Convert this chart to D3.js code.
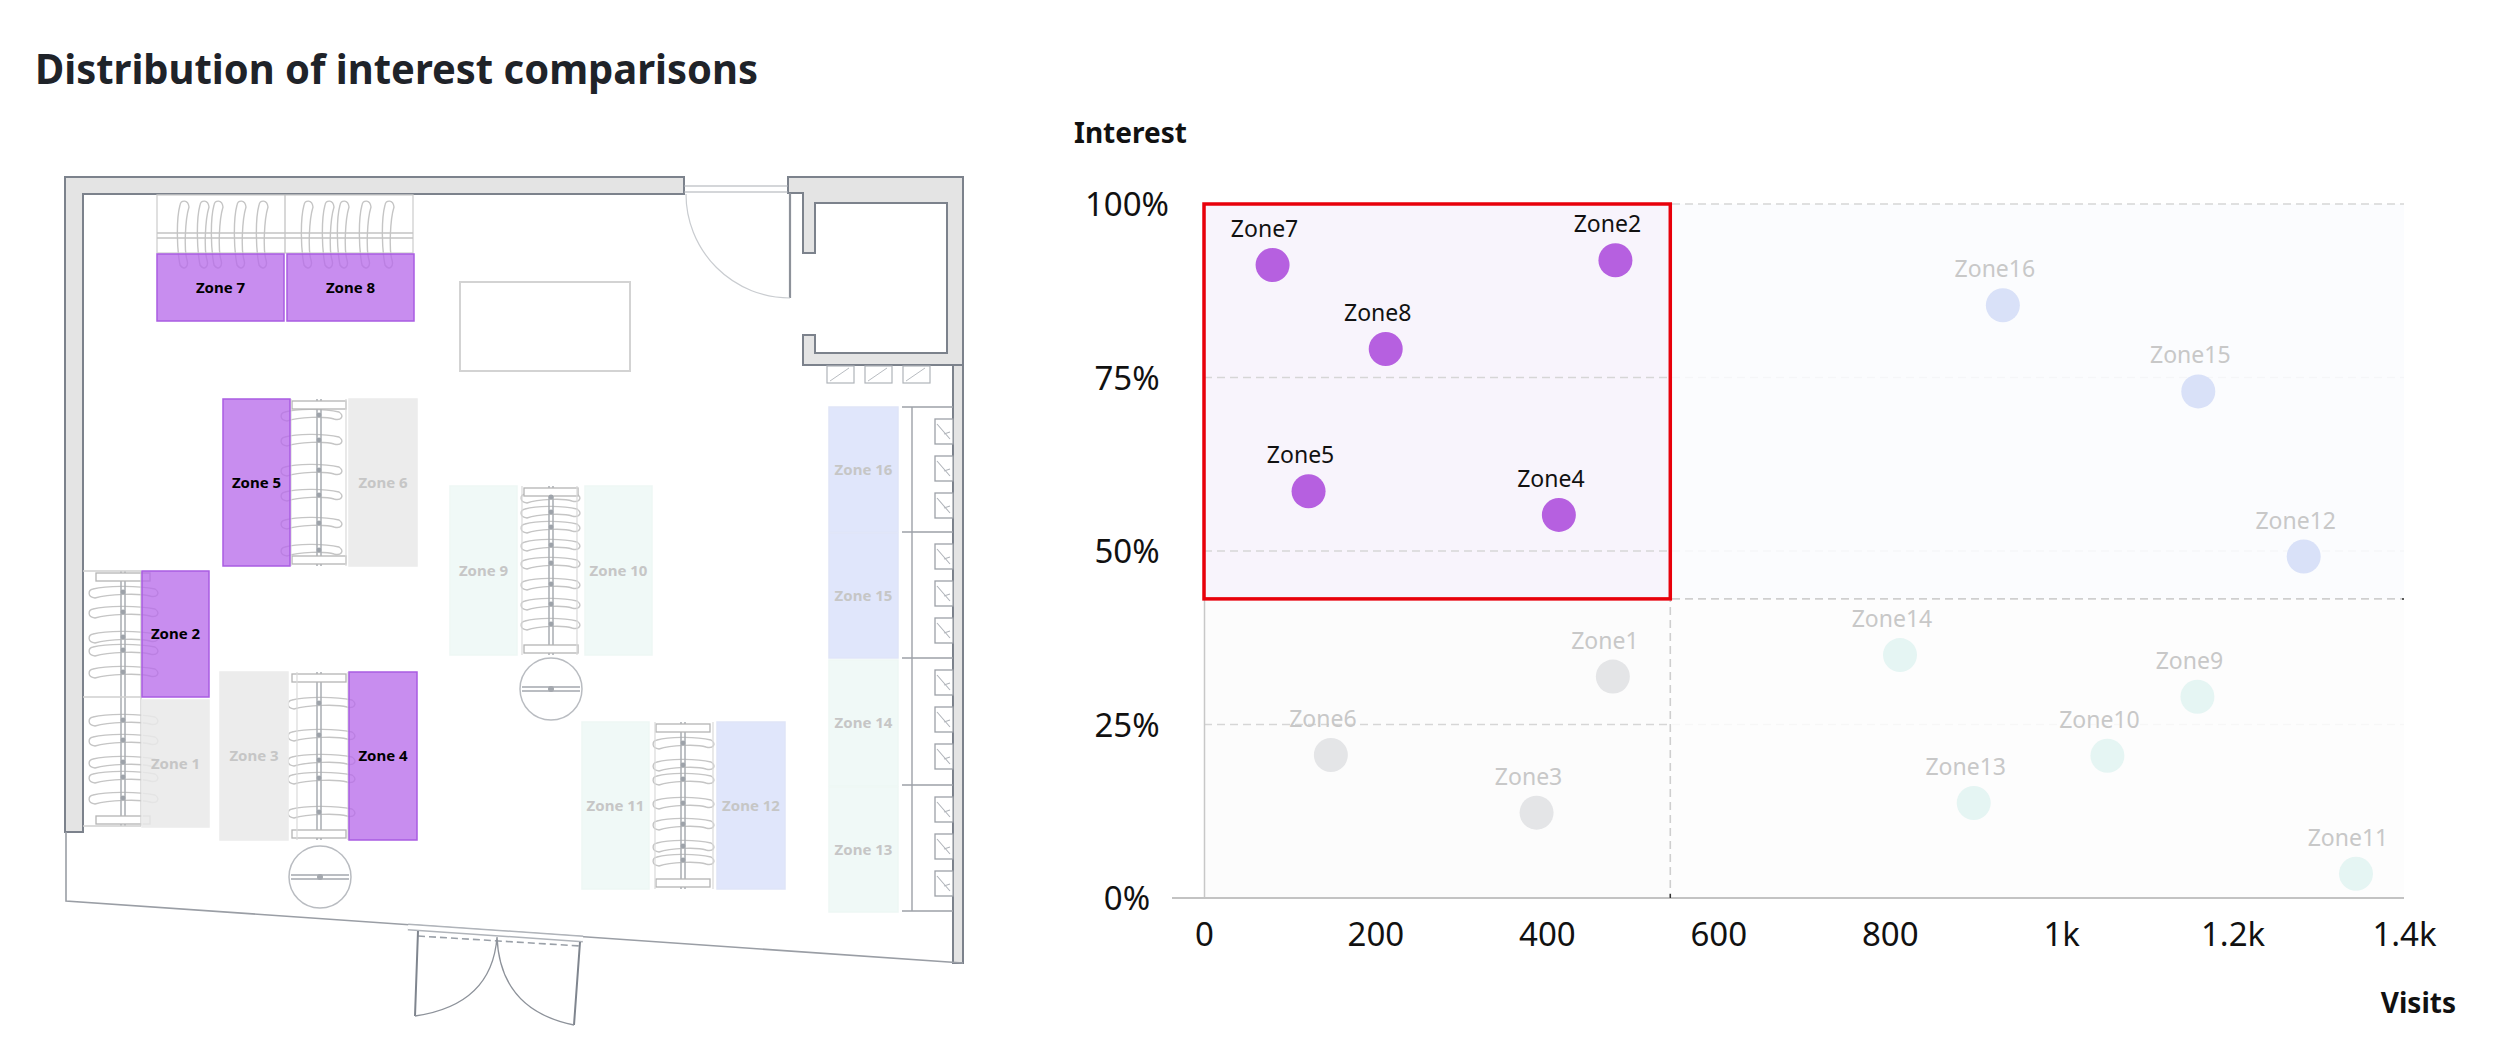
<!DOCTYPE html>
<html><head><meta charset="utf-8">
<script src="https://cdn.jsdelivr.net/npm/d3@7"></script>
<style>
html,body{margin:0;padding:0;background:#fff;}
svg{display:block;}
text{font-family:"Noto Sans","Open Sans",sans-serif;}
</style></head><body>
<svg id="c" width="2518" height="1062"></svg>
<script>
// ---------------- data ----------------
const zones    = ["Zone1","Zone2","Zone3","Zone4","Zone5","Zone6","Zone7","Zone8","Zone9","Zone10","Zone11","Zone12","Zone13","Zone14","Zone15","Zone16"];
const visits   = [477, 480, 388, 414, 122, 148, 80, 212, 1159, 1054, 1344, 1283, 898, 812, 1160, 932];
const interest = [0.319, 0.919, 0.123, 0.552, 0.586, 0.206, 0.912, 0.791, 0.290, 0.205, 0.035, 0.492, 0.137, 0.350, 0.730, 0.854];
const visitThreshold = 544;
const interestThreshold = 0.431;
const xTicks = [0, 200, 400, 600, 800, 1000, 1200, 1400];
const xTickLabels = ["0", "200", "400", "600", "800", "1k", "1.2k", "1.4k"];
const yTicks = [0, 0.25, 0.5, 0.75, 1];
const yTickLabels = ["0%", "25%", "50%", "75%", "100%"];
const planLabels = ["Zone 1","Zone 2","Zone 3","Zone 4","Zone 5","Zone 6","Zone 7","Zone 8","Zone 9","Zone 10","Zone 11","Zone 12","Zone 13","Zone 14","Zone 15","Zone 16"];
const titleText = "Distribution of interest comparisons";
const yAxisName = "Interest";
const xAxisName = "Visits";

// ---------------- layout / styles ----------------
const svg = d3.select("#c");
const W = 2518, H = 1062;
svg.append("rect").attr("width", W).attr("height", H).attr("fill", "#fff");

function quadrant(i) {
  const hiV = visits[i] >= visitThreshold, hiI = interest[i] >= interestThreshold;
  if (!hiV && hiI) return "focus";
  if (hiV && hiI) return "blue";
  if (!hiV && !hiI) return "gray";
  return "teal";
}
const pointColor = {focus: "#b660e0", blue: "#d9e1f8", gray: "#e4e5e7", teal: "#e5f5f3"};
const labelColor = {focus: "#111", blue: "#c8c8c8", gray: "#c8c8c8", teal: "#c8c8c8"};
const planFill = {focus: "#b86deb", blue: "#dbe2fa", gray: "#e9e9e9", teal: "#eef8f6"};
const planFillOp = {focus: 0.78, blue: 0.85, gray: 0.85, teal: 0.9};
const planStroke = {focus: "#a95ce2", blue: "#dfe5f8", gray: "#ececec", teal: "#eef7f5"};
const planText = {focus: "#000", blue: "#c6c6c6", gray: "#c6c6c6", teal: "#c6c6c6"};

// title
const title = svg.append("text").attr("x", 35).attr("y", 84)
  .attr("font-size", 42).attr("font-weight", 700).attr("fill", "#1f2329").text(titleText);
if (title.node().getComputedTextLength() > 723) title.attr("textLength", 723).attr("lengthAdjust", "spacingAndGlyphs");

// ---------------- floor plan ----------------
const plan = svg.append("g");
const planRect = {
  "Zone 1": [142, 700, 67, 127], "Zone 2": [142, 571, 67, 126], "Zone 3": [220, 672, 68, 168], "Zone 4": [349, 672, 68, 168],
  "Zone 5": [223, 399, 67, 167], "Zone 6": [349, 399, 68, 167], "Zone 7": [157, 254, 127, 67], "Zone 8": [287, 254, 127, 67],
  "Zone 9": [450, 486, 67, 169], "Zone 10": [585, 486, 67, 169], "Zone 11": [582, 722, 67, 167], "Zone 12": [717, 722, 68, 167],
  "Zone 13": [829, 787, 69, 125], "Zone 14": [829, 660, 69, 126], "Zone 15": [829, 533, 69, 125], "Zone 16": [829, 407, 69, 125]
};
const wallFill = "#e4e4e4", wallStroke = "#7c828c", thin = "#a9adb3", light = "#c5c5c5";

// walls
plan.append("path").attr("d", "M65,177 H684 V194 H83 V832 H65 Z")
  .attr("fill", wallFill).attr("stroke", wallStroke).attr("stroke-width", 2);
plan.append("path").attr("d", "M788,177 H963 V365 H803 V335 H815 V353 H947 V203 H815 V253 H803 V193 H788 Z")
  .attr("fill", wallFill).attr("stroke", wallStroke).attr("stroke-width", 2);
plan.append("path").attr("d", "M953,365 H963 V963 H953 Z")
  .attr("fill", wallFill).attr("stroke", wallStroke).attr("stroke-width", 2);
// top door frame + swing
plan.append("path").attr("d", "M684,186 H788 M684,192 H788").attr("stroke", thin).attr("stroke-width", 1.2).attr("fill", "none");
plan.append("path").attr("d", "M790,193 V298").attr("stroke", "#8d929a").attr("stroke-width", 2.2);
plan.append("path").attr("d", "M686,194 A104,104 0 0 0 790,298").attr("stroke", "#c9ccd0").attr("stroke-width", 1.2).attr("fill", "none");
// lower walls
plan.append("path").attr("d", "M66,832 V901 L963,963").attr("stroke", "#9a9ea5").attr("stroke-width", 1.6).attr("fill", "none");
// entrance door
plan.append("path").attr("d", "M408,927 L583,939").attr("stroke", "#b0b4ba").attr("stroke-width", 7).attr("fill", "none");
plan.append("path").attr("d", "M408,927 L583,939").attr("stroke", "#fff").attr("stroke-width", 4).attr("fill", "none");
plan.append("path").attr("d", "M418,936 L580,946").attr("stroke", "#9aa0a8").attr("stroke-width", 1.6).attr("stroke-dasharray", "7,4").attr("fill", "none");
plan.append("path").attr("d", "M418,931 L415,1016 M580,942 L574,1025").attr("stroke", "#7f858e").attr("stroke-width", 2).attr("fill", "none");
plan.append("path").attr("d", "M415,1016 Q492,1005 497,937 M574,1025 Q500,1010 497,937").attr("stroke", "#8d929a").attr("stroke-width", 1.3).attr("fill", "none");

// table
plan.append("rect").attr("x", 460).attr("y", 282).attr("width", 170).attr("height", 89)
  .attr("fill", "#fff").attr("stroke", "#d3d3d3").attr("stroke-width", 2);

// hangers
function hangerH(cx, y, half, bend) {
  const b = bend || 0;
  return `M${cx-half},${y-3+b} C${cx-half/2},${y-7} ${cx+half/2},${y-6} ${cx+half},${y-3-b}` +
         ` C${cx+half+6},${y+1} ${cx+half+2},${y+6} ${cx+half-5},${y+4}` +
         ` C${cx+half/2},${y+1} ${cx-half/2},${y+2} ${cx-half+2},${y+6}` +
         ` C${cx-half-6},${y+5} ${cx-half-5},${y-2} ${cx-half},${y-3+b} Z`;
}
function hangerV(x, cy, half) {
  return `M${x-3},${cy-half} C${x-7},${cy-half/2} ${x-6},${cy+half/2} ${x-3},${cy+half}` +
         ` C${x+1},${cy+half+6} ${x+6},${cy+half+2} ${x+4},${cy+half-5}` +
         ` C${x+1},${cy+half/2} ${x+2},${cy-half/2} ${x+6},${cy-half+2}` +
         ` C${x+5},${cy-half-6} ${x-2},${cy-half-5} ${x-3},${cy-half} Z`;
}
const hang = plan.append("g").attr("fill", "none").attr("stroke", light).attr("stroke-width", 1.4);

// top rack
plan.append("rect").attr("x", 157).attr("y", 195).attr("width", 256).attr("height", 58).attr("fill", "none").attr("stroke", "#d0d0d0").attr("stroke-width", 1.3);
plan.append("path").attr("d", "M285,195 V253 M157,233 H413 M157,238 H413").attr("stroke", "#c4c4c4").attr("stroke-width", 1.3);
[183, 203, 217, 240, 262, 307, 328, 343, 365, 388].forEach(x => hang.append("path").attr("d", hangerV(x, 235, 30)));

// vertical racks: [barX, top, bottom, hanger ys, half width, hanger center x]
const racks = [
  [319, 399, 566, [415, 440, 470, 495, 523, 550], 27, 312],
  [123, 571, 826, [592, 612, 637, 650, 672, 720, 740, 762, 777, 798], 31, 124],
  [319, 672, 840, [703, 735, 760, 778, 812], 30, 322],
  [551, 486, 655, [497, 512, 527, 545, 563, 584, 604, 624], 26, 551],
  [683, 722, 889, [743, 765, 779, 803, 824, 846, 860], 27, 684]
];
racks.forEach(r => {
  const [bx, t, b, ys, half, hx] = r;
  plan.append("path").attr("d", `M${bx-2},${t} V${b} M${bx+2},${t} V${b}`).attr("stroke", "#a9adb3").attr("stroke-width", 1.5);
  plan.append("rect").attr("x", bx - 27).attr("y", t + 2).attr("width", 54).attr("height", 8).attr("fill", "#fff").attr("stroke", "#b4b4b4").attr("stroke-width", 1.3);
  plan.append("rect").attr("x", bx - 27).attr("y", b - 10).attr("width", 54).attr("height", 8).attr("fill", "#fff").attr("stroke", "#b4b4b4").attr("stroke-width", 1.3);
  ys.forEach(y => {
    hang.append("path").attr("d", hangerH(hx, y, half));
    plan.append("circle").attr("cx", bx).attr("cy", y).attr("r", 2.4).attr("fill", "#9ea3aa");
  });
});
// left rack frame (Zone 2 / Zone 1)
plan.append("path").attr("d", "M83,571 H141 M83,697 H141 M83,826 H141 M141,571 V826").attr("stroke", "#cfcfcf").attr("stroke-width", 1.3).attr("fill", "none");
// Zone 3/4 and 5/6 rack side rails
plan.append("path").attr("d", "M297,672 V840 M348,672 V840 M291,399 V566 M346,399 V566 M522,486 V655 M577,486 V655 M655,722 V889 M713,722 V889")
  .attr("stroke", "#dadada").attr("stroke-width", 1.2).attr("fill", "none");
// round racks
[[320, 877], [551, 689]].forEach(c => {
  plan.append("circle").attr("cx", c[0]).attr("cy", c[1]).attr("r", 31).attr("fill", "#fff").attr("stroke", "#b9bcc1").attr("stroke-width", 1.5);
  plan.append("path").attr("d", `M${c[0]-29},${c[1]-2} H${c[0]+29} M${c[0]-29},${c[1]+2} H${c[0]+29}`).attr("stroke", "#a4a8ae").attr("stroke-width", 1.3);
  plan.append("circle").attr("cx", c[0]).attr("cy", c[1]).attr("r", 3).attr("fill", "#a4a8ae");
});
// right wall shelving
plan.append("path").attr("d", "M912,407 V911 M902,407 H953 M902,532 H953 M902,658 H953 M902,785 H953 M902,911 H953")
  .attr("stroke", "#9da1a8").attr("stroke-width", 1.4).attr("fill", "none");
[407, 532, 658, 785].forEach(t => {
  [12, 49, 86].forEach(o => {
    plan.append("rect").attr("x", 935).attr("y", t + o).attr("width", 18).attr("height", 25).attr("fill", "#fff").attr("stroke", "#9da1a8").attr("stroke-width", 1.3);
    plan.append("path").attr("d", `M937,${t+o+5} L950,${t+o+20} M944,${t+o+15} L950,${t+o+13}`).attr("stroke", "#b0b4ba").attr("stroke-width", 1.1).attr("fill", "none");
  });
});
[827, 865, 903].forEach(x => {
  plan.append("rect").attr("x", x).attr("y", 366).attr("width", 27).attr("height", 17).attr("fill", "#fff").attr("stroke", "#b0b4ba").attr("stroke-width", 1.2);
  plan.append("path").attr("d", `M${x+3},${x ? 381 : 381} L${x+22},368`).attr("stroke", "#b8bcc1").attr("stroke-width", 1).attr("fill", "none");
});

// zone rectangles in plan
zones.forEach((z, i) => {
  const lab = planLabels[i], r = planRect[lab], q = quadrant(i);
  plan.append("rect").attr("x", r[0]).attr("y", r[1]).attr("width", r[2]).attr("height", r[3])
    .attr("fill", planFill[q]).attr("fill-opacity", planFillOp[q])
    .attr("stroke", planStroke[q]).attr("stroke-width", 1.5);
  plan.append("text").attr("x", r[0] + r[2] / 2).attr("y", r[1] + r[3] / 2).attr("dy", "0.35em")
    .attr("text-anchor", "middle").attr("font-family", "Liberation Sans, Arial, sans-serif")
    .attr("font-size", 15).attr("font-weight", 700).attr("fill", planText[q]).text(lab);
});

// ---------------- scatter chart ----------------
const x = d3.scaleLinear().domain([0, 1400]).range([1204, 2404]);
const y = d3.scaleLinear().domain([0, 1]).range([898, 204]);
const ch = svg.append("g");
const xT = x(visitThreshold), yT = y(interestThreshold);

// quadrant backgrounds
ch.append("rect").attr("x", x(0)).attr("y", y(1)).attr("width", xT - x(0)).attr("height", yT - y(1)).attr("fill", "#f8f4fc");
ch.append("rect").attr("x", x(0)).attr("y", yT).attr("width", xT - x(0)).attr("height", y(0) - yT).attr("fill", "#fcfcfc");

// gridlines
ch.append("g").selectAll("line").data(yTicks.filter(t => t > 0 && t < 1)).join("line")
  .attr("x1", x(0)).attr("x2", x(1400)).attr("y1", d => y(d)).attr("y2", d => y(d))
  .attr("stroke", "#d6d6d6").attr("stroke-width", 1.5).attr("stroke-dasharray", "8,5");

// right quadrants (soften gridlines)
ch.append("rect").attr("x", xT).attr("y", y(1)).attr("width", x(1400) - xT).attr("height", yT - y(1)).attr("fill", "#fafbfe").attr("fill-opacity", 0.85);
ch.append("rect").attr("x", xT).attr("y", yT).attr("width", x(1400) - xT).attr("height", y(0) - yT).attr("fill", "#fdfdfd").attr("fill-opacity", 0.85);

// top gridline
ch.append("line").attr("x1", x(0)).attr("x2", x(1400)).attr("y1", y(1)).attr("y2", y(1))
  .attr("stroke", "#d6d6d6").attr("stroke-width", 1.5).attr("stroke-dasharray", "8,5");

// axes
const yAxisG = ch.append("g").attr("transform", `translate(${x(0)},0)`)
  .call(d3.axisLeft(y).tickValues(yTicks).tickFormat((d, i) => yTickLabels[i]).tickSize(0).tickPadding(77));
yAxisG.select(".domain").attr("stroke", "#c8c8c8").attr("stroke-width", 1.5);
yAxisG.selectAll("text").attr("text-anchor", "middle").attr("font-size", 33)
  .attr("font-family", "Noto Sans, sans-serif").attr("fill", "#111").attr("dy", "0.36em");

const xAxisG = ch.append("g").attr("transform", `translate(0,${y(0)})`)
  .call(d3.axisBottom(x).tickValues(xTicks).tickFormat((d, i) => xTickLabels[i]).tickSize(0).tickPadding(25));
xAxisG.select(".domain").remove();
xAxisG.selectAll("text").attr("font-size", 33).attr("font-family", "Noto Sans, sans-serif").attr("fill", "#111");
ch.append("line").attr("x1", x(0) - 32).attr("x2", x(1400)).attr("y1", y(0)).attr("y2", y(0))
  .attr("stroke", "#c3c3c3").attr("stroke-width", 1.8);

// threshold lines
ch.append("line").attr("x1", x(0)).attr("x2", x(1400)).attr("y1", yT).attr("y2", yT)
  .attr("stroke", "#cfcfcf").attr("stroke-width", 1.6).attr("stroke-dasharray", "8,5");
ch.append("line").attr("x1", xT).attr("x2", xT).attr("y1", y(1)).attr("y2", y(0))
  .attr("stroke", "#cfcfcf").attr("stroke-width", 1.6).attr("stroke-dasharray", "8,5");
ch.append("line").attr("x1", xT).attr("x2", xT).attr("y1", y(0) - 4).attr("y2", y(0)).attr("stroke", "#333").attr("stroke-width", 1.5);
ch.append("line").attr("x1", x(1400) - 2).attr("x2", x(1400)).attr("y1", yT).attr("y2", yT).attr("stroke", "#333").attr("stroke-width", 1.5);

// focus quadrant border
ch.append("rect").attr("x", x(0)).attr("y", y(1)).attr("width", xT - x(0)).attr("height", yT - y(1))
  .attr("fill", "none").attr("stroke", "#e8000b").attr("stroke-width", 3.5);

// axis names
ch.append("text").attr("x", 1074).attr("y", 143).attr("font-size", 28).attr("font-weight", 700).attr("fill", "#111").text(yAxisName);
ch.append("text").attr("x", 2456).attr("y", 1013).attr("text-anchor", "end").attr("font-size", 28).attr("font-weight", 700).attr("fill", "#111").text(xAxisName);

// points
const idx = d3.range(zones.length);
ch.append("g").selectAll("circle").data(idx).join("circle")
  .attr("cx", i => x(visits[i])).attr("cy", i => y(interest[i])).attr("r", 17)
  .attr("fill", i => pointColor[quadrant(i)]);
ch.append("g").selectAll("text").data(idx).join("text")
  .attr("x", i => x(visits[i]) - 8).attr("y", i => y(interest[i]) - 28)
  .attr("text-anchor", "middle").attr("font-size", 23)
  .attr("fill", i => labelColor[quadrant(i)]).text(i => zones[i]);
</script>
</body></html>
